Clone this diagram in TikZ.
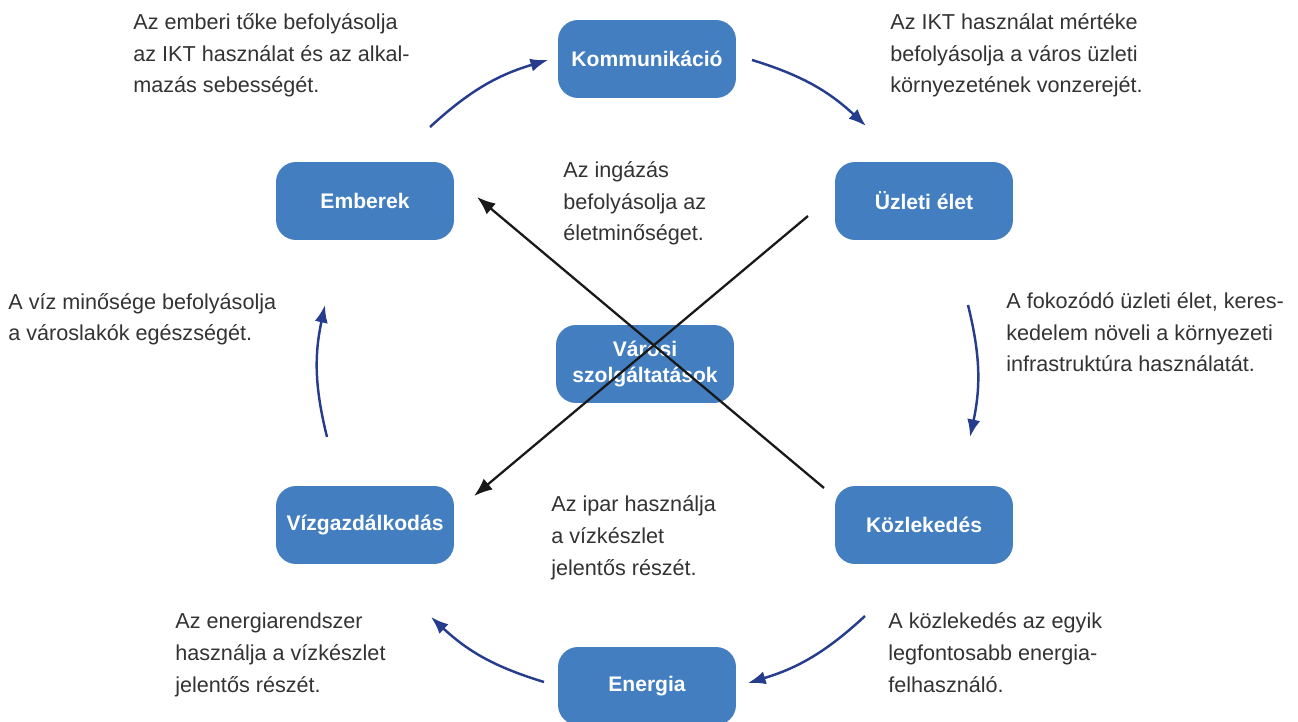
\documentclass[tikz,border=0pt]{standalone}
\usepackage{fontspec}
\setmainfont{Liberation Sans}
\usetikzlibrary{arrows.meta}

\definecolor{boxblue}{HTML}{437EC0}
\definecolor{arrowblue}{HTML}{263D8E}
\definecolor{notegray}{HTML}{333333}

\begin{document}
\begin{tikzpicture}[
  x=0.02cm, y=-0.02cm,
  box/.style={rectangle, fill=boxblue, rounded corners=0.4cm,
             minimum width=3.56cm, minimum height=1.56cm, align=center,
             text=white, font=\fontsize{12}{15}\selectfont\bfseries},
  note/.style={align=left, inner sep=0pt, anchor=base west, text=notegray,
             font=\fontsize{12.3}{18.1}\selectfont},
  flow/.style={-{Latex[length=10pt,width=7.5pt]}, line width=1.4pt, draw=arrowblue, bend left=13},
  cross/.style={-{Latex[length=10.5pt,width=8pt]}, line width=1.3pt, draw=black!90}
]
\useasboundingbox (0,0) rectangle (1298,722);
\clip (0,0) rectangle (1298,722);

% Boxes
\node[box] (kommunikacio) at (647,59)  {Kommunikáció};
\node[box] (emberek)      at (365,201) {Emberek};
\node[box] (uzleti)       at (924,201) {Üzleti élet};
\node[box] (varosi)       at (645,364) {Városi\\szolgáltatások};
\node[box] (vizgazd)      at (365,525) {Vízgazdálkodás};
\node[box] (kozlekedes)   at (924,525) {Közlekedés};
\node[box] (energia)      at (647,686) {Energia};

% Notes (placed at the baseline of their last line)
\node[note] (nkomm) at (133,93)
  {Az emberi tőke befolyásolja\\az IKT használat és az alkal-\\mazás sebességét.};
\node[note] (nuzl) at (890,93)
  {Az IKT használat mértéke\\befolyásolja a város üzleti\\környezetének vonzerejét.};
\node[note] (ninga) at (563,241)
  {Az ingázás\\befolyásolja az\\életminőséget.};
\node[note] (nviz) at (8,341)
  {A víz minősége befolyásolja\\a városlakók egészségét.};
\node[note] (nkoz) at (1006,372)
  {A fokozódó üzleti élet, keres-\\kedelem növeli a környezeti\\infrastruktúra használatát.};
\node[note] (nipar) at (551,575)
  {Az ipar használja\\a vízkészlet\\jelentős részét.};
\node[note] (nenerg) at (175,692)
  {Az energiarendszer\\használja a vízkészlet\\jelentős részét.};
\node[note] (nfelh) at (888,692)
  {A közlekedés az egyik\\legfontosabb energia-\\felhasználó.};

% Arrow ends
\coordinate (e1) at (430,127);  \coordinate (k1) at (548,60);
\coordinate (k2) at (752,60);   \coordinate (u1) at (866,126);
\coordinate (u2) at (968,305);  \coordinate (z1) at (970,437);
\coordinate (z2) at (865,616);  \coordinate (n1) at (748,683);
\coordinate (n2) at (544,682);  \coordinate (v1) at (431,617);
\coordinate (v2) at (327,437);  \coordinate (e2) at (325,305);
\coordinate (z3) at (824,488);  \coordinate (e3) at (477,197);
\coordinate (u3) at (808,216);  \coordinate (v3) at (474,496);

% Cycle
\draw[flow] (e1) to (k1);
\draw[flow] (k2) to (u1);
\draw[flow] (u2) to (z1);
\draw[flow] (z2) to (n1);
\draw[flow] (n2) to (v1);
\draw[flow] (v2) to (e2);

% Crossing arrows
\draw[cross] (z3) -- (e3);
\draw[cross] (u3) -- (v3);

\end{tikzpicture}
\end{document}
